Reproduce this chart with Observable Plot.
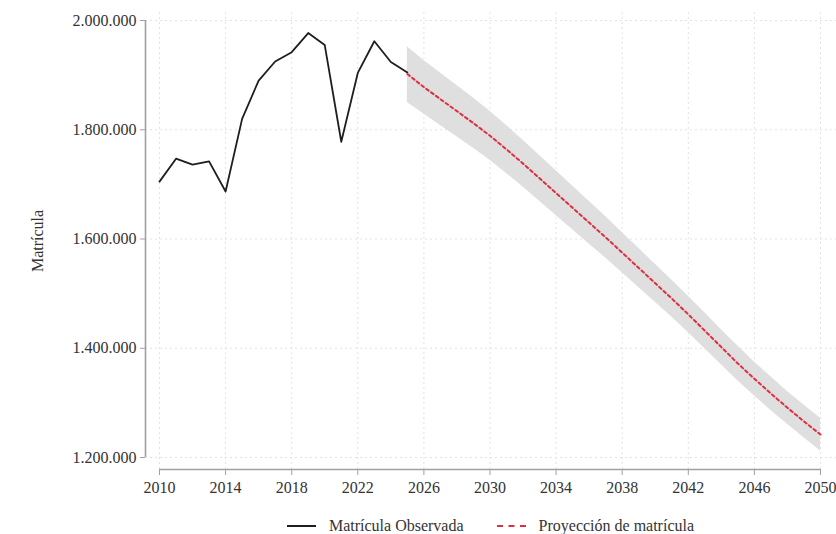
<!DOCTYPE html>
<html>
<head>
<meta charset="utf-8">
<script src="https://cdn.jsdelivr.net/npm/d3@7"></script>
<script src="https://cdn.jsdelivr.net/npm/@observablehq/plot@0.6"></script>
<style>
  body { margin: 0; background: #fff; font-family: "Liberation Serif", "DejaVu Serif", serif; }
  #chart { width: 836px; }
  .legend { display: flex; justify-content: center; align-items: center; padding-left: 145px; padding-top: 6px; box-sizing: border-box; width: 836px; height: 22px; font-size: 16px; color: #333; }
  .legend .item { display: flex; align-items: center; }
  .legend .sw { width: 29px; height: 0; margin-right: 13px; }
  .legend .gap { width: 33px; }
</style>
</head>
<body>
<div id="chart"></div>
<script>
const obsYears = [2010,2011,2012,2013,2014,2015,2016,2017,2018,2019,2020,2021,2022,2023,2024,2025];
const obsValues = [1705000,1747000,1736000,1742000,1687000,1820000,1890000,1925000,1942000,1977000,1955000,1778000,1904000,1962000,1924000,1905000];

const projYears = [2025,2026,2027,2028,2029,2030,2031,2032,2033,2034,2035,2036,2037,2038,2039,2040,2041,2042,2043,2044,2045,2046,2047,2048,2049,2050];
const projValues = [1902000,1878000,1856000,1834000,1812000,1789000,1764000,1738000,1711000,1684000,1657000,1630000,1603000,1575000,1547000,1519000,1491000,1462000,1432000,1402000,1372000,1344000,1317000,1291000,1266000,1242000];
const projUpper = [1952000,1927000,1904000,1881000,1858000,1834000,1808000,1781000,1753000,1725000,1697000,1669000,1641000,1612000,1583000,1554000,1525000,1495000,1465000,1434000,1404000,1375000,1348000,1321000,1296000,1272000];
const projLower = [1850000,1829000,1808000,1787000,1766000,1744000,1720000,1695000,1669000,1643000,1617000,1591000,1565000,1538000,1511000,1484000,1457000,1429000,1399000,1370000,1340000,1313000,1286000,1261000,1236000,1212000];

const xTicks = [2010,2014,2018,2022,2026,2030,2034,2038,2042,2046,2050];
const yTicks = [1200000,1400000,1600000,1800000,2000000];
const yLabel = "Matrícula";
const seriesLabels = ["Matrícula Observada", "Proyección de matrícula"];

const observed = obsYears.map((y, i) => ({year: y, value: obsValues[i]}));
const projection = projYears.map((y, i) => ({year: y, value: projValues[i], lo: projLower[i], hi: projUpper[i]}));

const fmt = d3.formatLocale({decimal: ",", thousands: ".", grouping: [3], currency: ["", ""]}).format(",d");

const axisColor = "#a0a0a0";
const gridColor = "#e2e2e2";

const plot = Plot.plot({
  width: 836,
  height: 512,
  marginTop: 12,
  marginBottom: 43,
  marginLeft: 145,
  marginRight: 0,
  style: {fontFamily: "Liberation Serif, serif", fontSize: "16px", color: "#333", background: "#fff"},
  x: {domain: [2010, 2050], insetLeft: 14, insetRight: 16},
  y: {domain: [1200000, 2000000], insetTop: 8, insetBottom: 12},
  marks: [
    Plot.gridX(xTicks, {stroke: gridColor, strokeOpacity: 1, strokeDasharray: "2,3"}),
    Plot.gridY(yTicks, {stroke: gridColor, strokeOpacity: 1, strokeDasharray: "2,3"}),
    Plot.areaY(projection, {x: "year", y1: "lo", y2: "hi", fill: "#dcdcdc", fillOpacity: 0.9}),
    Plot.line(observed, {x: "year", y: "value", stroke: "#1e1e1e", strokeWidth: 1.8}),
    Plot.line(projection, {x: "year", y: "value", stroke: "#dc3040", strokeWidth: 2, strokeDasharray: "3,3"}),
    Plot.ruleX([2010], {y1: 1200000, y2: 2000000, dx: -14, stroke: axisColor, strokeWidth: 1.6}),
    Plot.ruleY([1200000], {x1: 2010, x2: 2050, dy: 12, stroke: axisColor, strokeWidth: 1.6}),
    Plot.axisX(xTicks, {tickFormat: d => String(d), tickSize: 6, tickPadding: 6, stroke: axisColor, fill: "#333", label: null}),
    Plot.axisY(yTicks, {tickFormat: fmt, tickSize: 5, tickPadding: 4, stroke: axisColor, fill: "#333", label: yLabel, labelAnchor: "center", labelOffset: 114, labelArrow: "none"})
  ]
});
document.getElementById("chart").appendChild(plot);

const legend = document.createElement("div");
legend.className = "legend";
legend.innerHTML = `
  <div class="item"><div class="sw" style="border-top:2px solid #1e1e1e"></div><span>${seriesLabels[0]}</span></div>
  <div class="gap"></div>
  <div class="item"><div class="sw" style="border-top:2px dashed #dc3040"></div><span>${seriesLabels[1]}</span></div>`;
document.getElementById("chart").appendChild(legend);
</script>
</body>
</html>
